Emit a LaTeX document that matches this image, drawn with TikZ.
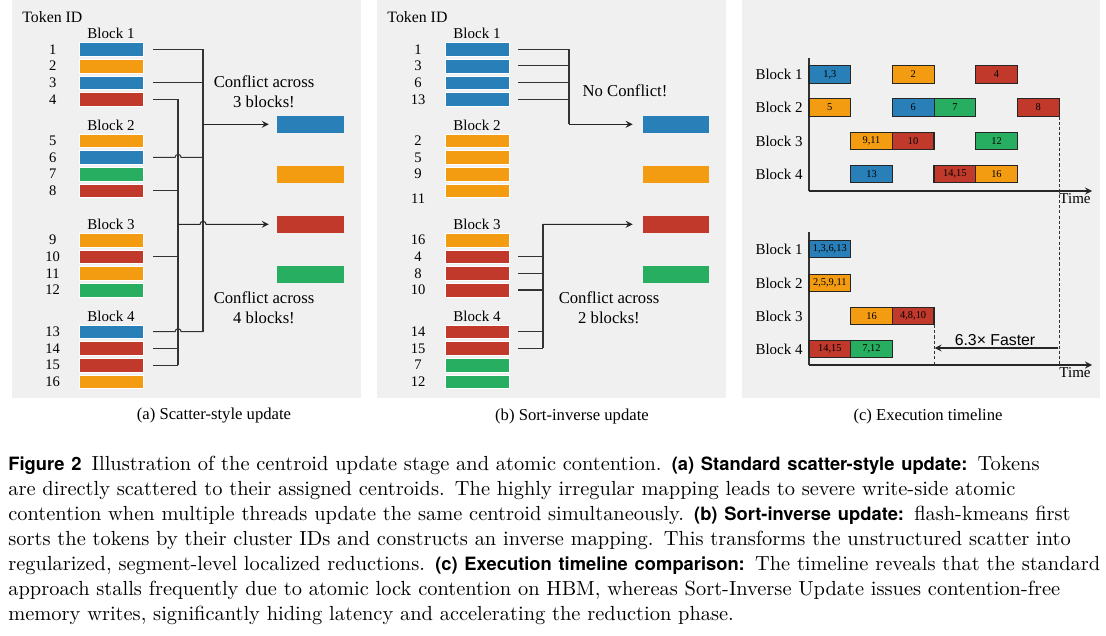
\documentclass[tikz,border=0pt]{standalone}
\usepackage{fontspec}
\usepackage{tikz}
\usetikzlibrary{arrows, positioning}
\newfontfamily\diagfont{Liberation Serif}
\newfontfamily\diagsans{Liberation Sans}
\newfontfamily\headfont{TeX Gyre Heros}
\newcommand{\capbold}[1]{{\headfont\bfseries\fontsize{8.8}{12}\selectfont #1}}

\definecolor{tokblue}{HTML}{2980B9}
\definecolor{tokorange}{HTML}{F39C12}
\definecolor{tokred}{HTML}{C0392B}
\definecolor{tokgreen}{HTML}{27AE60}
\definecolor{panelgray}{HTML}{F0F0F0}

\tikzstyle{token} = [rectangle, minimum width=30.7pt, minimum height=6.5pt, inner sep=0pt, draw=white, line width=0.2pt]
\tikzstyle{centroid} = [rectangle, minimum width=32pt, minimum height=8pt, inner sep=0pt]
\tikzstyle{task} = [rectangle, minimum width=20pt, minimum height=8.2pt, inner sep=0pt, draw=black!85, line width=0.5pt, font=\diagfont\fontsize{5}{6}\selectfont]
\tikzstyle{tid} = [inner sep=0pt, font=\diagfont\fontsize{7}{8}\selectfont]
\tikzstyle{header} = [inner sep=0pt, anchor=west, font=\diagfont\fontsize{7.6}{9}\selectfont]
\tikzstyle{blocklabel} = [inner sep=0pt, font=\diagfont\fontsize{7.2}{8}\selectfont]
\tikzstyle{note} = [inner sep=0pt, align=center, font=\diagfont\fontsize{8}{9.6}\selectfont]
\tikzstyle{subcap} = [inner sep=0pt, font=\diagfont\fontsize{8}{9.6}\selectfont]
\tikzstyle{wire} = [draw=black!80, line width=0.5pt]
\tikzstyle{arrow} = [black!85, line width=0.5pt, ->, >=stealth]
\tikzstyle{guide} = [draw=black!80, line width=0.5pt, dash pattern=on 1.5pt off 1pt]

\begin{document}
\begin{tikzpicture}[x=0.48pt, y=-0.48pt, node distance=8pt]
\useasboundingbox (0,0) rectangle (1106,635);

% Panels
\fill[panelgray] (12,0) rectangle (361,398);
\fill[panelgray] (377,0) rectangle (726,398);
\fill[panelgray] (742,0) rectangle (1100,398);

% (a) Scatter-style update
\node (atok) [header] at (22,17) {Token ID};

\node (a1) [token, fill=tokblue] at (111,49.3) {};
\node (a2) [token, fill=tokorange, below of=a1] {};
\node (a3) [token, fill=tokblue, below of=a2] {};
\node (a4) [token, fill=tokred, below of=a3] {};
\node (a5) [token, fill=tokorange] at (111,140.7) {};
\node (a6) [token, fill=tokblue, below of=a5] {};
\node (a7) [token, fill=tokgreen, below of=a6] {};
\node (a8) [token, fill=tokred, below of=a7] {};
\node (a9) [token, fill=tokorange] at (111,240) {};
\node (a10) [token, fill=tokred, below of=a9] {};
\node (a11) [token, fill=tokorange, below of=a10] {};
\node (a12) [token, fill=tokgreen, below of=a11] {};
\node (a13) [token, fill=tokblue] at (111,331.7) {};
\node (a14) [token, fill=tokred, below of=a13] {};
\node (a15) [token, fill=tokred, below of=a14] {};
\node (a16) [token, fill=tokorange, below of=a15] {};

\node (ablk1) [blocklabel, node distance=7.5pt, above of=a1] {Block 1};
\node (ablk2) [blocklabel, node distance=7.5pt, above of=a5] {Block 2};
\node (ablk3) [blocklabel, node distance=7.5pt, above of=a9] {Block 3};
\node (ablk4) [blocklabel, node distance=7.5pt, above of=a13] {Block 4};

\node (na1) [tid, node distance=28pt, left of=a1] {1};
\node (na2) [tid, node distance=28pt, left of=a2] {2};
\node (na3) [tid, node distance=28pt, left of=a3] {3};
\node (na4) [tid, node distance=28pt, left of=a4] {4};
\node (na5) [tid, node distance=28pt, left of=a5] {5};
\node (na6) [tid, node distance=28pt, left of=a6] {6};
\node (na7) [tid, node distance=28pt, left of=a7] {7};
\node (na8) [tid, node distance=28pt, left of=a8] {8};
\node (na9) [tid, node distance=28pt, left of=a9] {9};
\node (na10) [tid, node distance=28pt, left of=a10] {10};
\node (na11) [tid, node distance=28pt, left of=a11] {11};
\node (na12) [tid, node distance=28pt, left of=a12] {12};
\node (na13) [tid, node distance=28pt, left of=a13] {13};
\node (na14) [tid, node distance=28pt, left of=a14] {14};
\node (na15) [tid, node distance=28pt, left of=a15] {15};
\node (na16) [tid, node distance=28pt, left of=a16] {16};

\node (ca1) [centroid, fill=tokblue] at (310.5,124.3) {};
\node (ca2) [centroid, fill=tokorange, node distance=24pt, below of=ca1] {};
\node (ca3) [centroid, fill=tokred, node distance=24pt, below of=ca2] {};
\node (ca4) [centroid, fill=tokgreen, node distance=24pt, below of=ca3] {};

\node (anote1) [note] at (264,92) {Conflict across\\3 blocks!};
\node (anote2) [note] at (264,308) {Conflict across\\4 blocks!};

\coordinate (ablue) at (203,124.3);
\coordinate (ared) at (178,224.3);

% blue tokens
\draw[wire] ([xshift=4.8pt]a1.east) -- (a1.east -| ablue);
\draw[wire] ([xshift=4.8pt]a3.east) -- (a3.east -| ablue);
\draw[wire] ([xshift=4.8pt]a6.east) -- ([xshift=-1.4pt]a6.east -| ared) arc[start angle=180, end angle=360, radius=3] -- (a6.east -| ablue);
\draw[wire] ([xshift=4.8pt]a13.east) -- ([xshift=-1.4pt]a13.east -| ared) arc[start angle=180, end angle=360, radius=3] -- (a13.east -| ablue);
\draw[wire] (a1.east -| ablue) -- (a13.east -| ablue);
\draw[arrow] (ablue) -- ([xshift=-3.8pt]ca1.west);

% red tokens
\draw[wire] ([xshift=4.8pt]a4.east) -- (a4.east -| ared);
\draw[wire] ([xshift=4.8pt]a8.east) -- (a8.east -| ared);
\draw[wire] ([xshift=4.8pt]a10.east) -- (a10.east -| ared);
\draw[wire] ([xshift=4.8pt]a14.east) -- (a14.east -| ared);
\draw[wire] ([xshift=4.8pt]a15.east) -- (a15.east -| ared);
\draw[wire] (a4.east -| ared) -- (a15.east -| ared);
\draw[arrow] (ared) -- ([xshift=-1.4pt]ared -| ablue) arc[start angle=180, end angle=360, radius=3] -- ([xshift=-3.8pt]ca3.west);

\node (capa) [subcap] at (214,416) {(a) Scatter-style update};

% (b) Sort-inverse update
\node (btok) [header] at (387,17) {Token ID};

\node (b1) [token, fill=tokblue] at (477,49.3) {};
\node (b3) [token, fill=tokblue, below of=b1] {};
\node (b6) [token, fill=tokblue, below of=b3] {};
\node (b13) [token, fill=tokblue, below of=b6] {};
\node (b2) [token, fill=tokorange] at (477,140.7) {};
\node (b5) [token, fill=tokorange, below of=b2] {};
\node (b9) [token, fill=tokorange, below of=b5] {};
\node (b11) [token, fill=tokorange, below of=b9] {};
\node (b16) [token, fill=tokorange] at (477,240) {};
\node (b4) [token, fill=tokred, below of=b16] {};
\node (b8) [token, fill=tokred, below of=b4] {};
\node (b10) [token, fill=tokred, below of=b8] {};
\node (b14) [token, fill=tokred] at (477,331.7) {};
\node (b15) [token, fill=tokred, below of=b14] {};
\node (b7) [token, fill=tokgreen, below of=b15] {};
\node (b12) [token, fill=tokgreen, below of=b7] {};

\node (bblk1) [blocklabel, node distance=7.5pt, above of=b1] {Block 1};
\node (bblk2) [blocklabel, node distance=7.5pt, above of=b2] {Block 2};
\node (bblk3) [blocklabel, node distance=7.5pt, above of=b16] {Block 3};
\node (bblk4) [blocklabel, node distance=7.5pt, above of=b14] {Block 4};

\node (nb1) [tid, node distance=28.3pt, left of=b1] {1};
\node (nb3) [tid, node distance=28.3pt, left of=b3] {3};
\node (nb6) [tid, node distance=28.3pt, left of=b6] {6};
\node (nb13) [tid, node distance=28.3pt, left of=b13] {13};
\node (nb2) [tid, node distance=28.3pt, left of=b2] {2};
\node (nb5) [tid, node distance=28.3pt, left of=b5] {5};
\node (nb9) [tid, node distance=28.3pt, left of=b9] {9};
\node (nb11) [tid, node distance=28.3pt, left of=b11, yshift=-3.8pt] {11};
\node (nb16) [tid, node distance=28.3pt, left of=b16] {16};
\node (nb4) [tid, node distance=28.3pt, left of=b4] {4};
\node (nb8) [tid, node distance=28.3pt, left of=b8] {8};
\node (nb10) [tid, node distance=28.3pt, left of=b10] {10};
\node (nb14) [tid, node distance=28.3pt, left of=b14] {14};
\node (nb15) [tid, node distance=28.3pt, left of=b15] {15};
\node (nb7) [tid, node distance=28.3pt, left of=b7] {7};
\node (nb12) [tid, node distance=28.3pt, left of=b12] {12};

\node (cb1) [centroid, fill=tokblue] at (676,124.3) {};
\node (cb2) [centroid, fill=tokorange, node distance=24pt, below of=cb1] {};
\node (cb3) [centroid, fill=tokred, node distance=24pt, below of=cb2] {};
\node (cb4) [centroid, fill=tokgreen, node distance=24pt, below of=cb3] {};

\node (bnote1) [note] at (625,91) {No Conflict!};
\node (bnote2) [note] at (609,308) {Conflict across\\2 blocks!};

\coordinate (bblue) at (569,124.3);
\coordinate (bred) at (543,224.3);

\draw[wire] ([xshift=4.3pt]b1.east) -- (b1.east -| bblue);
\draw[wire] ([xshift=4.3pt]b3.east) -- (b3.east -| bblue);
\draw[wire] ([xshift=4.3pt]b6.east) -- (b6.east -| bblue);
\draw[wire] ([xshift=4.3pt]b13.east) -- (b13.east -| bblue);
\draw[wire] (b1.east -| bblue) -- (bblue);
\draw[arrow] (bblue) -- ([xshift=-4.6pt]cb1.west);

\draw[wire] ([xshift=4.3pt]b4.east) -- (b4.east -| bred);
\draw[wire] ([xshift=4.3pt]b8.east) -- (b8.east -| bred);
\draw[wire] ([xshift=4.3pt]b10.east) -- (b10.east -| bred);
\draw[wire] ([xshift=4.3pt]b14.east) -- (b14.east -| bred);
\draw[wire] ([xshift=4.3pt]b15.east) -- (b15.east -| bred);
\draw[wire] (bred) -- (b15.east -| bred);
\draw[arrow] (bred) -- ([xshift=-4.6pt]cb3.west);

\node (capb) [subcap] at (572,416) {(b) Sort-inverse update};

% (c) Execution timeline: scatter
\coordinate (qtop) at (809,58);
\coordinate (qorig) at (809,191);
\coordinate (qend) at (1092,191);
\draw[wire] (qtop) -- (qorig);
\draw[arrow] (qorig) -- (qend);

\node (ql1) [blocklabel, anchor=east] at (803,74.5) {Block 1};
\node (ql2) [blocklabel, anchor=east] at (803,107.5) {Block 2};
\node (ql3) [blocklabel, anchor=east] at (803,141) {Block 3};
\node (ql4) [blocklabel, anchor=east] at (803,174) {Block 4};

\node (q1a) [task, fill=tokblue] at (829.8,74.5) {1,3};
\node (q1b) [task, fill=tokorange] at (913.2,74.5) {2};
\node (q1c) [task, fill=tokred] at (996.5,74.5) {4};
\node (q2a) [task, fill=tokorange] at (829.8,107.5) {5};
\node (q2b) [task, fill=tokblue] at (913.2,107.5) {6};
\node (q2c) [task, fill=tokgreen, node distance=20pt, right of=q2b] {7};
\node (q2d) [task, fill=tokred] at (1038.2,107.5) {8};
\node (q3a) [task, fill=tokorange] at (871.5,141) {9,11};
\node (q3b) [task, fill=tokred, node distance=20pt, right of=q3a] {10};
\node (q3c) [task, fill=tokgreen] at (996.5,141) {12};
\node (q4a) [task, fill=tokblue] at (871.5,174) {13};
\node (q4b) [task, fill=tokred] at (954.8,174) {14,15};
\node (q4c) [task, fill=tokorange, node distance=20pt, right of=q4b] {16};

\node (qtime) [blocklabel] at (1075,199) {Time};

% (c) Execution timeline: sort-inverse
\coordinate (ptop) at (809,232);
\coordinate (porig) at (809,365);
\coordinate (pend) at (1092,365);
\draw[wire] (ptop) -- (porig);
\draw[arrow] (porig) -- (pend);

\node (pl1) [blocklabel, anchor=east] at (803,249) {Block 1};
\node (pl2) [blocklabel, anchor=east] at (803,283) {Block 2};
\node (pl3) [blocklabel, anchor=east] at (803,316) {Block 3};
\node (pl4) [blocklabel, anchor=east] at (803,349) {Block 4};

\node (p1a) [task, fill=tokblue] at (829.8,249) {1,3,6,13};
\node (p2a) [task, fill=tokorange] at (829.8,283) {2,5,9,11};
\node (p3a) [task, fill=tokorange] at (871.5,316) {16};
\node (p3b) [task, fill=tokred, node distance=20pt, right of=p3a] {4,8,10};
\node (p4a) [task, fill=tokred] at (829.8,349) {14,15};
\node (p4b) [task, fill=tokgreen, node distance=20pt, right of=p4a] {7,12};

\node (ptime) [blocklabel] at (1075,373) {Time};

\draw[guide] (q2d.south east) -- (q2d.south east |- porig);
\draw[guide] (p3b.south east) -- (p3b.south east |- porig);
\coordinate (gapend) at (1058,348);
\draw[arrow] (gapend) -- (gapend -| p3b.east);
\node (speedup) [inner sep=0pt, font=\diagsans\fontsize{7.6}{9}\selectfont] at (995,340) {6.3× Faster};

\node (capc) [subcap] at (928,416) {(c) Execution timeline};

% Figure caption
\node (caption) [anchor=north west, inner sep=0pt, text width=524pt, align=left, font=\fontsize{9.8}{12}\selectfont] at (8,456) {%
\makebox[524pt][s]{\capbold{Figure 2}\enskip Illustration of the centroid update stage and atomic contention. \capbold{(a) Standard scatter-style update:}\enskip Tokens}\\
\makebox[524pt][s]{are directly scattered to their assigned centroids. The highly irregular mapping leads to severe write-side atomic}\\
\makebox[524pt][s]{contention when multiple threads update the same centroid simultaneously. \capbold{(b) Sort-inverse update:}\enskip flash-kmeans first}\\
\makebox[524pt][s]{sorts the tokens by their cluster IDs and constructs an inverse mapping. This transforms the unstructured scatter into}\\
\makebox[524pt][s]{regularized, segment-level localized reductions. \capbold{(c) Execution timeline comparison:}\enskip The timeline reveals that the standard}\\
\makebox[524pt][s]{approach stalls frequently due to atomic lock contention on HBM, whereas Sort-Inverse Update issues contention-free}\\
memory writes, significantly hiding latency and accelerating the reduction phase.};

\end{tikzpicture}
\end{document}
